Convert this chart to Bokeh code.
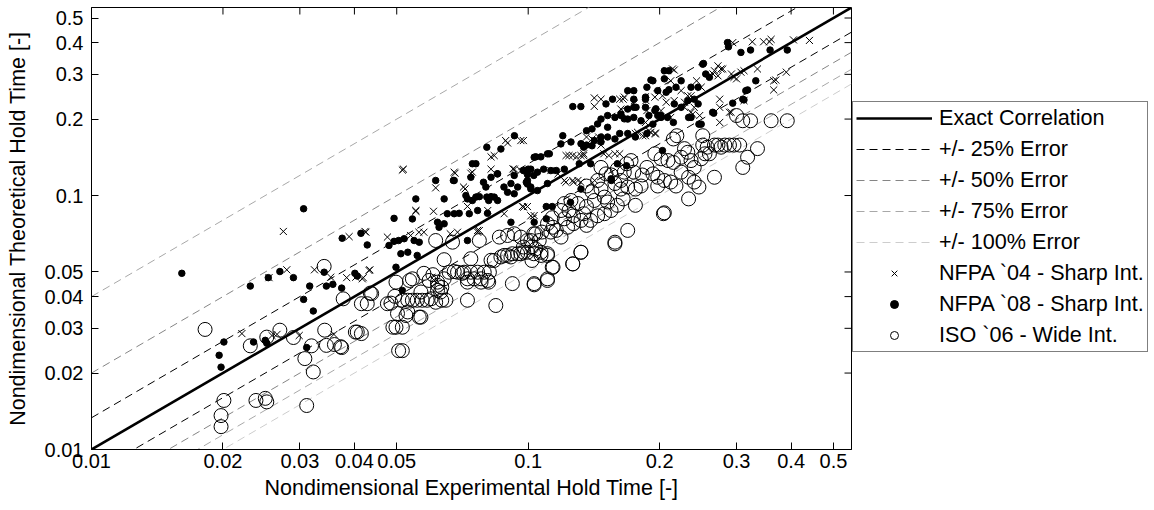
import math
from bokeh.plotting import figure
from bokeh.models import (Range1d, FixedTicker, CustomJSTickFormatter,
                          Legend, LegendItem)
from bokeh.embed import file_html
from bokeh.resources import INLINE

FONT = "Liberation Sans"
TICKS = [0.01, 0.02, 0.03, 0.04, 0.05, 0.1, 0.2, 0.3, 0.4, 0.5]
AXIS_LIMITS = [0.01, 0.55]
ERROR_LEVELS = [0.25, 0.50, 0.75, 1.00]
ERROR_LABELS = ["+/- 25% Error", "+/- 50% Error", "+/- 75% Error", "+/- 100% Error"]
ERROR_COLORS = ["#000000", "#858585", "#a8a8a8", "#cdcdcd"]
SERIES_LABELS = ["NFPA `04 - Sharp Int.", "NFPA `08 - Sharp Int.", "ISO `06 - Wide Int."]

# (experimental, theoretical)
NFPA04 = [
    (0.0221, 0.0286), (0.0259, 0.0281), (0.0266, 0.0284), (0.0299, 0.0281), (0.0359, 0.0284),
    (0.0255, 0.0475), (0.0280, 0.0510), (0.0324, 0.0510), (0.0353, 0.0477), (0.0384, 0.0475),
    (0.0403, 0.0477), (0.0419, 0.0475), (0.0434, 0.0510), (0.0275, 0.0722), (0.0389, 0.0689),
    (0.0423, 0.0722), (0.0476, 0.0686), (0.0432, 0.0507), (0.0417, 0.0470), (0.0515, 0.1260),
    (0.0680, 0.1224), (0.0739, 0.1224), (0.0614, 0.1072), (0.0717, 0.1062), (0.0553, 0.0867),
    (0.0607, 0.0867), (0.0726, 0.0906), (0.0425, 0.0717), (0.0538, 0.0696), (0.0562, 0.0717),
    (0.0577, 0.0717), (0.0663, 0.0707), (0.0689, 0.0717), (0.0766, 0.0717), (0.0977, 0.0900),
    (0.1032, 0.0834), (0.0881, 0.0848), (0.0773, 0.0728), (0.0610, 0.0463), (0.1417, 0.2423),
    (0.1417, 0.2245), (0.0888, 0.1646), (0.0962, 0.1646), (0.0836, 0.1437), (0.0822, 0.1420),
    (0.0677, 0.1236), (0.0822, 0.1270), (0.0711, 0.1080), (0.0923, 0.1273), (0.0962, 0.1254),
    (0.1000, 0.1254), (0.1127, 0.1254), (0.1170, 0.1217), (0.1221, 0.1437), (0.1265, 0.1437),
    (0.1321, 0.1437), (0.1360, 0.1700), (0.1440, 0.1646), (0.1210, 0.1146), (0.1265, 0.1146),
    (0.1300, 0.1146), (0.0970, 0.0905), (0.1014, 0.0832), (0.1220, 0.1128), (0.1270, 0.1128),
    (0.1320, 0.1128), (0.1240, 0.1437), (0.1290, 0.1420), (0.1340, 0.1460), (0.1490, 0.1460),
    (0.1530, 0.1437), (0.1580, 0.1460), (0.1620, 0.1460), (0.1400, 0.1670), (0.1450, 0.1700),
    (0.1760, 0.1755), (0.1910, 0.1774), (0.1960, 0.1755), (0.1420, 0.1146), (0.0975, 0.1646),
    (0.0518, 0.1270), (0.0553, 0.0873), (0.0745, 0.1236), (0.0897, 0.1610), (0.0930, 0.1270),
    (0.0766, 0.0729), (0.0808, 0.0873), (0.0996, 0.0905), (0.1468, 0.2395), (0.1620, 0.2395),
    (0.1650, 0.2395), (0.1745, 0.2295), (0.1890, 0.1800), (0.2140, 0.3150), (0.2080, 0.3100),
    (0.2745, 0.2395), (0.2745, 0.2225), (0.2745, 0.1940), (0.2915, 0.2127), (0.2960, 0.2920),
    (0.3120, 0.3100), (0.3350, 0.3150), (0.3650, 0.2830), (0.3650, 0.2605), (0.3900, 0.3060),
    (0.4406, 0.4080), (0.3260, 0.4030), (0.3460, 0.4030), (0.3570, 0.4030), (0.3600, 0.4120),
    (0.2940, 0.4000), (0.2670, 0.3100), (0.2765, 0.3150), (0.2360, 0.2470), (0.2400, 0.2225),
    (0.2470, 0.2065), (0.2160, 0.2364), (0.1950, 0.2440), (0.1870, 0.2160), (0.1856, 0.1940),
    (0.2280, 0.2225), (0.2120, 0.2030), (0.1950, 0.1755), (0.1780, 0.1774), (0.1417, 0.1646),
    (0.1468, 0.1580), (0.1340, 0.1437), (0.4050, 0.4100), (0.3690, 0.2850), (0.3070, 0.3060),
    (0.2720, 0.3240), (0.2790, 0.3150), (0.2650, 0.3010), (0.2720, 0.2960), (0.2920, 0.3010),
    (0.3000, 0.2880), (0.2160, 0.3120), (0.2490, 0.2670), (0.2430, 0.2830), (0.2240, 0.2588),
    (0.2320, 0.2470), (0.2280, 0.2330), (0.2360, 0.2127), (0.2030, 0.2470), (0.2070, 0.2330),
    (0.2015, 0.2159), (0.3120, 0.2364), (0.1856, 0.1720), (0.1660, 0.2440), (0.1860, 0.2364),
    (0.2120, 0.2830), (0.2380, 0.2090), (0.1830, 0.1720), (0.1630, 0.2190), (0.2890, 0.2127),
]

NFPA08 = [
    (0.0161, 0.0494), (0.0231, 0.0440), (0.0254, 0.0475), (0.0270, 0.0502), (0.0290, 0.0475),
    (0.0316, 0.0440), (0.0306, 0.0390), (0.0322, 0.0351), (0.0341, 0.0499), (0.0345, 0.0440),
    (0.0357, 0.0447), (0.0374, 0.0432), (0.0401, 0.0494), (0.0406, 0.0482), (0.0201, 0.0265),
    (0.0196, 0.0235), (0.0198, 0.0211), (0.0235, 0.0265), (0.0250, 0.0269), (0.0252, 0.0262),
    (0.0311, 0.0252), (0.0498, 0.0522), (0.0306, 0.0887), (0.0493, 0.0813), (0.0375, 0.0679),
    (0.0414, 0.0710), (0.0428, 0.0639), (0.0480, 0.0636), (0.0493, 0.0660), (0.0505, 0.0665),
    (0.0614, 0.1146), (0.0674, 0.1146), (0.0739, 0.1180), (0.0822, 0.1180), (0.0851, 0.1217),
    (0.0929, 0.1200), (0.0996, 0.1210), (0.1030, 0.1200), (0.0553, 0.0970), (0.0642, 0.0970),
    (0.0720, 0.1000), (0.0759, 0.0986), (0.0804, 0.0986), (0.0836, 0.0986), (0.0897, 0.1030),
    (0.0929, 0.1016), (0.0946, 0.1080), (0.0996, 0.1110), (0.0543, 0.0809), (0.0653, 0.0848),
    (0.0695, 0.0851), (0.0733, 0.0848), (0.0766, 0.0873), (0.0807, 0.0851), (0.0620, 0.0785),
    (0.0520, 0.0676), (0.0548, 0.0665), (0.0563, 0.0655), (0.0511, 0.0590), (0.0530, 0.0598),
    (0.0557, 0.0581), (0.0726, 0.0665), (0.0913, 0.0785), (0.0515, 0.0423), (0.0625, 0.0750),
    (0.0642, 0.0774), (0.1032, 0.0785), (0.0677, 0.1146), (0.0745, 0.1334), (0.0759, 0.1334),
    (0.0804, 0.1550), (0.0866, 0.1525), (0.0930, 0.1720), (0.0850, 0.1217), (0.0913, 0.1115),
    (0.0880, 0.1080), (0.0990, 0.1128), (0.1014, 0.1062), (0.1041, 0.1420), (0.1069, 0.1420),
    (0.1118, 0.1460), (0.1200, 0.1720), (0.1188, 0.1597), (0.1265, 0.2240), (0.1320, 0.2240),
    (0.1468, 0.2000), (0.1560, 0.2395), (0.1745, 0.2395), (0.1856, 0.2440), (0.1930, 0.2830),
    (0.2050, 0.2880), (0.2510, 0.3290), (0.2645, 0.2127), (0.2860, 0.4000), (0.3070, 0.3660),
    (0.3230, 0.3740), (0.3580, 0.3740), (0.3920, 0.3740), (0.3320, 0.2830), (0.3150, 0.2588),
    (0.3100, 0.2395), (0.2460, 0.1910), (0.2330, 0.2030), (0.2240, 0.2225), (0.2100, 0.2610),
    (0.0677, 0.0848), (0.0726, 0.0970), (0.0745, 0.0956), (0.0773, 0.0990), (0.0812, 0.0956),
    (0.0822, 0.0990), (0.0851, 0.0956), (0.0790, 0.1128), (0.0800, 0.1080), (0.0990, 0.1254),
    (0.1000, 0.1270), (0.1340, 0.1550), (0.1360, 0.1580), (0.1417, 0.1646), (0.1468, 0.1700),
    (0.1360, 0.1800), (0.1400, 0.1830), (0.1520, 0.2065), (0.1580, 0.2030), (0.1630, 0.2090),
    (0.1690, 0.2000), (0.1745, 0.2030), (0.1745, 0.2225), (0.1856, 0.2225), (0.1950, 0.2160),
    (0.1980, 0.2065), (0.1690, 0.2588), (0.1745, 0.2588), (0.1600, 0.1334), (0.2030, 0.1503),
    (0.1550, 0.1146), (0.1250, 0.0940), (0.1100, 0.0905), (0.1507, 0.2295), (0.1690, 0.2190),
    (0.1766, 0.2226), (0.2014, 0.2065), (0.2085, 0.2030), (0.1632, 0.2065), (0.1660, 0.2004),
    (0.1442, 0.1914), (0.1520, 0.1857), (0.1107, 0.1459), (0.1032, 0.1415), (0.1309, 0.1334),
    (0.1390, 0.1334), (0.1253, 0.1625), (0.1321, 0.1600), (0.1400, 0.1570), (0.1468, 0.1625),
    (0.1520, 0.1700), (0.1580, 0.1670), (0.1620, 0.1755), (0.1690, 0.1755), (0.1760, 0.1700),
    (0.1870, 0.1755), (0.0975, 0.1254), (0.1014, 0.1270), (0.1050, 0.1236), (0.1085, 0.1270),
    (0.1127, 0.1254), (0.1160, 0.1254), (0.1210, 0.1270), (0.0996, 0.1146), (0.1014, 0.1080),
    (0.1050, 0.1046), (0.1107, 0.1115), (0.1321, 0.1060), (0.1100, 0.0810), (0.1135, 0.0905),
    (0.1548, 0.1163), (0.1680, 0.1310), (0.2875, 0.3850), (0.2520, 0.3310), (0.2050, 0.3100),
    (0.2100, 0.3100), (0.1910, 0.2850), (0.2550, 0.3010), (0.2600, 0.2920), (0.3180, 0.2605),
    (0.3120, 0.2380), (0.2940, 0.2310), (0.2660, 0.2110), (0.2490, 0.1910), (0.2150, 0.1940),
    (0.2360, 0.2030), (0.1980, 0.2588), (0.2070, 0.2550), (0.1870, 0.2670), (0.1856, 0.2395),
    (0.1813, 0.1970), (0.1890, 0.2065), (0.1960, 0.2195), (0.2180, 0.2670), (0.2240, 0.2830),
    (0.2360, 0.2670), (0.2450, 0.2670), (0.2320, 0.2364), (0.2400, 0.2395), (0.2450, 0.2295),
    (0.2160, 0.2295), (0.1930, 0.1910), (0.2015, 0.2030),
]

ISO06 = [
    (0.0182, 0.0297), (0.0231, 0.0256), (0.0252, 0.0277), (0.0270, 0.0295), (0.0290, 0.0276),
    (0.0319, 0.0256), (0.0342, 0.0295), (0.0345, 0.0257), (0.0360, 0.0259), (0.0374, 0.0252),
    (0.0406, 0.0290), (0.0308, 0.0228), (0.0322, 0.0202), (0.0201, 0.0156), (0.0198, 0.0136),
    (0.0198, 0.0123), (0.0238, 0.0156), (0.0250, 0.0159), (0.0252, 0.0154), (0.0311, 0.0149),
    (0.0341, 0.0526), (0.0377, 0.0392), (0.0428, 0.0375), (0.0438, 0.0411), (0.0485, 0.0377),
    (0.0495, 0.0401), (0.0490, 0.0303), (0.0505, 0.0245), (0.0402, 0.0290), (0.0372, 0.0254),
    (0.0476, 0.0375), (0.0498, 0.0456), (0.0435, 0.0413), (0.0614, 0.0665), (0.0671, 0.0655),
    (0.0642, 0.0559), (0.0739, 0.0564), (0.0773, 0.0665), (0.0822, 0.0556), (0.0859, 0.0686),
    (0.0897, 0.0696), (0.0929, 0.0707), (0.0881, 0.0581), (0.0913, 0.0573), (0.0946, 0.0590),
    (0.0977, 0.0598), (0.0996, 0.0665), (0.1020, 0.0628), (0.1040, 0.0707), (0.0543, 0.0470),
    (0.0593, 0.0463), (0.0620, 0.0443), (0.0642, 0.0470), (0.0659, 0.0499), (0.0689, 0.0499),
    (0.0713, 0.0499), (0.0739, 0.0499), (0.0766, 0.0499), (0.0793, 0.0499), (0.0815, 0.0499),
    (0.0726, 0.0470), (0.0752, 0.0470), (0.0780, 0.0470), (0.0808, 0.0463), (0.0920, 0.0450),
    (0.1032, 0.0450), (0.0726, 0.0387), (0.0843, 0.0369), (0.0515, 0.0387), (0.0530, 0.0387),
    (0.0543, 0.0387), (0.0557, 0.0387), (0.0572, 0.0387), (0.0599, 0.0392), (0.0614, 0.0380),
    (0.0634, 0.0387), (0.0620, 0.0423), (0.0634, 0.0435), (0.0648, 0.0387), (0.0530, 0.0348),
    (0.0502, 0.0343), (0.0563, 0.0332), (0.0498, 0.0303), (0.0415, 0.0286), (0.0515, 0.0245),
    (0.0415, 0.0375), (0.0726, 0.0456), (0.0780, 0.0456), (0.0812, 0.0456), (0.0836, 0.0555),
    (0.0866, 0.0573), (0.0897, 0.0581), (0.0920, 0.0590), (0.0962, 0.0590), (0.1030, 0.0590),
    (0.1070, 0.0581), (0.1107, 0.0590), (0.1135, 0.0522), (0.1107, 0.0470), (0.0587, 0.0387),
    (0.0535, 0.0463), (0.0568, 0.0417), (0.0577, 0.0494), (0.0605, 0.0488), (0.0620, 0.0456),
    (0.0630, 0.0417), (0.0568, 0.0332), (0.0525, 0.0337), (0.0515, 0.0303), (0.1265, 0.0538),
    (0.1320, 0.0598), (0.0677, 0.0502), (0.0706, 0.0494),
    (0.2150, 0.1670), (0.2190, 0.1720), (0.1950, 0.1460), (0.2015, 0.1395), (0.2090, 0.1373),
    (0.2150, 0.1350), (0.1870, 0.1290), (0.1930, 0.1217), (0.1980, 0.1180), (0.2050, 0.1146),
    (0.2120, 0.1130), (0.2180, 0.1090), (0.1980, 0.1090), (0.1680, 0.1334), (0.1720, 0.1373),
    (0.1660, 0.1236), (0.1745, 0.1236), (0.1825, 0.1205), (0.1600, 0.1270), (0.1550, 0.1205),
    (0.1630, 0.1146), (0.1580, 0.1115), (0.1630, 0.1060), (0.1690, 0.1080), (0.1760, 0.1060),
    (0.1813, 0.1090), (0.1468, 0.1290), (0.1507, 0.1217), (0.1442, 0.1146), (0.1468, 0.1060),
    (0.1400, 0.1035), (0.1360, 0.1090), (0.1495, 0.0986), (0.1417, 0.0956), (0.1520, 0.0943),
    (0.1600, 0.0915), (0.1650, 0.0970), (0.1760, 0.0915), (0.1253, 0.0956), (0.1300, 0.0930),
    (0.1210, 0.0930), (0.1189, 0.0873), (0.1240, 0.0873), (0.1270, 0.0832), (0.1340, 0.0848),
    (0.1360, 0.0905), (0.1321, 0.0798), (0.1360, 0.0763), (0.1390, 0.0798), (0.1442, 0.0832),
    (0.1495, 0.0848), (0.1548, 0.0873), (0.1135, 0.0818), (0.1107, 0.0775), (0.1140, 0.0750),
    (0.1075, 0.0718), (0.1127, 0.0718), (0.1160, 0.0729), (0.1189, 0.0686), (0.1231, 0.0750),
    (0.1270, 0.0775), (0.1210, 0.0810), (0.1030, 0.0707), (0.1014, 0.0665), (0.1060, 0.0665),
    (0.1040, 0.0616), (0.0996, 0.0598), (0.1070, 0.0598), (0.1107, 0.0581), (0.1020, 0.0555),
    (0.0975, 0.0627), (0.0962, 0.0686), (0.1140, 0.0522), (0.1107, 0.0463), (0.1032, 0.0445),
    (0.1321, 0.0598), (0.1265, 0.0538), (0.1580, 0.0645), (0.1690, 0.0729), (0.2050, 0.0855),
    (0.3000, 0.2065), (0.3100, 0.1970), (0.3230, 0.1970), (0.3600, 0.1970), (0.3920, 0.1970),
    (0.3350, 0.1530), (0.3180, 0.1415), (0.3100, 0.1290), (0.2670, 0.1180), (0.2960, 0.1580),
    (0.2890, 0.1580), (0.2765, 0.1550), (0.2670, 0.1580), (0.2570, 0.1550), (0.2510, 0.1580),
    (0.2600, 0.1460), (0.2540, 0.1460), (0.2490, 0.1395), (0.2320, 0.1480), (0.2240, 0.1415),
    (0.2360, 0.1373), (0.2400, 0.1290), (0.2280, 0.1530), (0.2400, 0.1130), (0.2460, 0.1080),
    (0.2330, 0.1180), (0.2240, 0.1236), (0.2330, 0.0970), (0.2040, 0.0848), (0.1580, 0.0655),
    (0.2510, 0.1720), (0.2720, 0.1580), (0.2820, 0.1580), (0.3050, 0.1580),
]


def col(points, i):
    return [pt[i] for pt in points]


p = figure(x_axis_type="log", y_axis_type="log",
           x_range=Range1d(*AXIS_LIMITS), y_range=Range1d(*AXIS_LIMITS),
           frame_width=760, frame_height=442,
           min_border_left=91, min_border_right=10, min_border_top=7, min_border_bottom=61,
           output_backend="svg", toolbar_location=None,
           background_fill_color="white", border_fill_color="white")
p.grid.visible = False
p.outline_line_color = "black"
p.outline_line_width = 1

fmt = CustomJSTickFormatter(code="return String(Number(tick.toPrecision(3)));")

for ax in (p.xaxis[0], p.yaxis[0]):
    ax.ticker = FixedTicker(ticks=TICKS, minor_ticks=[])
    ax.formatter = fmt
    ax.major_tick_in = 7
    ax.major_tick_out = 0
    ax.minor_tick_in = 0
    ax.minor_tick_out = 0
    ax.axis_line_color = "black"
    ax.major_tick_line_color = "black"
    ax.major_label_text_font = FONT
    ax.major_label_text_font_size = "20px"
    ax.major_label_text_color = "black"
    ax.axis_label_text_font = FONT
    ax.axis_label_text_font_size = "21.5px"
    ax.axis_label_text_font_style = "normal"
    ax.axis_label_text_color = "black"

p.xaxis.axis_label = "Nondimensional Experimental Hold Time [-]"
p.yaxis.axis_label = "Nondimensional Theoretical Hold Time [-]"
p.xaxis.major_label_standoff = 4
p.xaxis.axis_label_standoff = 5
p.yaxis.major_label_standoff = 8
p.yaxis.axis_label_standoff = 12

# inward tick marks on the top and right frame edges (half of each dash is clipped)
p.scatter(TICKS, [AXIS_LIMITS[1]] * len(TICKS), marker="dash", angle=math.pi / 2,
          size=14, line_color="black", line_width=1)
p.scatter([AXIS_LIMITS[1]] * len(TICKS), TICKS, marker="dash",
          size=14, line_color="black", line_width=1)

# reference lines
line_x = AXIS_LIMITS
exact = p.line(line_x, line_x, line_color="black", line_width=2.6)
error_renderers = []
for lvl, color in zip(ERROR_LEVELS, ERROR_COLORS):
    lo = p.line(line_x, [v / (1 + lvl) for v in line_x], line_color=color,
                line_width=1, line_dash="8 5")
    if lvl < 1:
        p.line(line_x, [v / (1 - lvl) for v in line_x], line_color=color,
               line_width=1, line_dash="8 5")
    error_renderers.append(lo)

r04 = p.scatter(col(NFPA04, 0), col(NFPA04, 1), marker="x", size=10,
                line_color="black", line_width=1)
r08 = p.scatter(col(NFPA08, 0), col(NFPA08, 1), marker="circle", size=6.5,
                fill_color="black", line_color="black")
r06 = p.scatter(col(ISO06, 0), col(ISO06, 1), marker="circle", size=14,
                fill_color=None, line_color="black", line_width=1)

items = [LegendItem(label="Exact Correlation", renderers=[exact])]
items += [LegendItem(label=lab, renderers=[r]) for lab, r in zip(ERROR_LABELS, error_renderers)]
items += [LegendItem(label=lab, renderers=[r]) for lab, r in zip(SERIES_LABELS, [r04, r08, r06])]

legend = Legend(items=items, location=(1, 97), orientation="vertical",
                label_text_font=FONT, label_text_font_size="21.6px", label_text_color="black",
                glyph_width=76, glyph_height=20, label_height=20, label_standoff=7,
                spacing=5, padding=3, margin=0,
                border_line_color="black", border_line_width=1,
                background_fill_color="white", background_fill_alpha=1)
p.add_layout(legend, "right")

open("out.html", "w").write(file_html(p, INLINE))
